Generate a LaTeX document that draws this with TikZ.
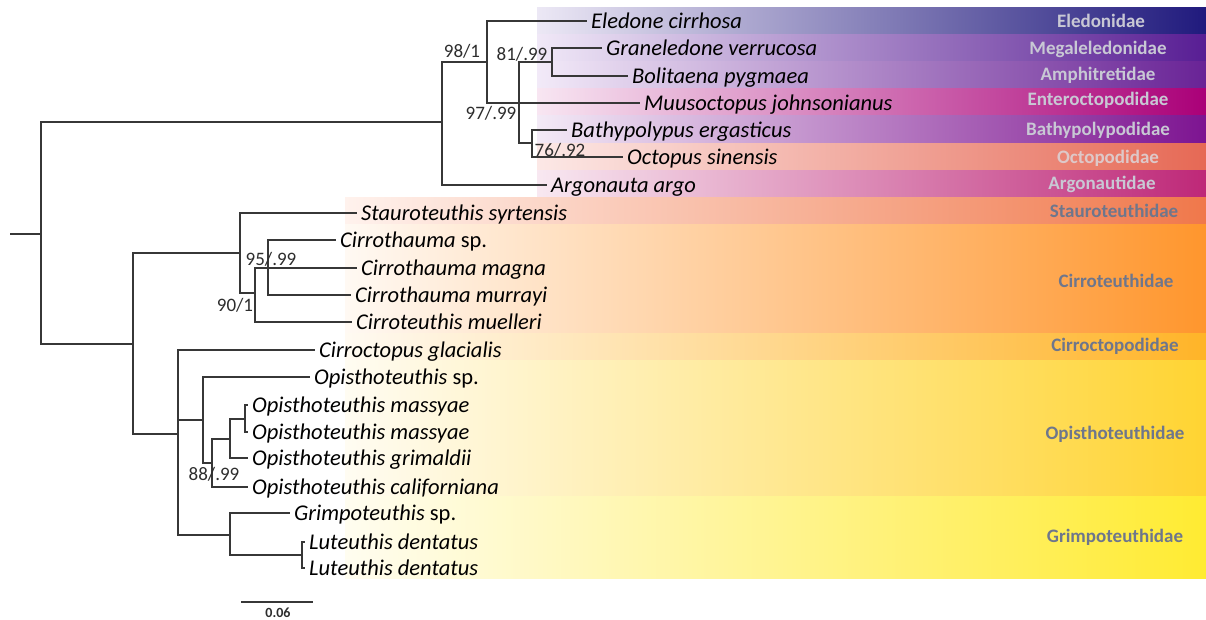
\documentclass[tikz,border=0pt]{standalone}
\usepackage{fontspec}
\setmainfont{Carlito}

\definecolor{treeline}{RGB}{55,55,55}
\definecolor{supportgray}{RGB}{45,45,45}
\definecolor{labpale}{RGB}{200,200,212}
\definecolor{labpink}{RGB}{222,200,200}
\definecolor{labslate}{RGB}{110,118,140}

\begin{document}
\begin{tikzpicture}[x=1pt,y=-1pt,
  branch/.style={draw=treeline,line width=1.3pt},
  leaf/.style={anchor=west,inner xsep=4pt,inner ysep=0pt,text height=15pt,text depth=0pt,
    font=\fontsize{22.5}{22.5}\selectfont\itshape},
  support/.style={inner sep=0pt,text=supportgray,font=\fontsize{19}{19}\selectfont},
  family/.style={inner sep=0pt,font=\fontsize{19}{19}\selectfont\bfseries}]
\useasboundingbox (0,0) rectangle (1206,619);

% family bands
\shade[left color={rgb,255:red,236;green,232;blue,245},middle color={rgb,255:red,150;green,140;blue,196},right color={rgb,255:red,32;green,26;blue,125}] (537,7) rectangle (1206,34);
\shade[left color={rgb,255:red,240;green,232;blue,247},middle color={rgb,255:red,185;green,155;blue,212},right color={rgb,255:red,88;green,30;blue,148}] (537,34) rectangle (1206,61);
\shade[left color={rgb,255:red,242;green,234;blue,248},middle color={rgb,255:red,195;green,162;blue,216},right color={rgb,255:red,105;green,35;blue,150}] (537,61) rectangle (1206,88);
\shade[left color={rgb,255:red,248;green,230;blue,242},middle color={rgb,255:red,215;green,125;blue,182},right color={rgb,255:red,170;green,0;blue,120}] (537,88) rectangle (1206,115);
\shade[left color={rgb,255:red,243;green,234;blue,246},middle color={rgb,255:red,205;green,150;blue,205},right color={rgb,255:red,125;green,20;blue,145}] (537,115) rectangle (1206,143);
\shade[left color={rgb,255:red,252;green,232;blue,230},middle color={rgb,255:red,245;green,185;blue,178},right color={rgb,255:red,230;green,105;blue,85}] (537,143) rectangle (1206,170);
\shade[left color={rgb,255:red,248;green,232;blue,241},middle color={rgb,255:red,225;green,160;blue,195},right color={rgb,255:red,190;green,40;blue,120}] (537,170) rectangle (1206,197);
\shade[left color={rgb,255:red,255;green,242;blue,237},middle color={rgb,255:red,252;green,190;blue,165},right color={rgb,255:red,240;green,120;blue,75}] (345,197) rectangle (1206,224);
\shade[left color={rgb,255:red,255;green,249;blue,243},middle color={rgb,255:red,255;green,205;blue,150},right color={rgb,255:red,255;green,150;blue,45}] (345,224) rectangle (1206,333);
\shade[left color={rgb,255:red,255;green,250;blue,242},middle color={rgb,255:red,255;green,214;blue,140},right color={rgb,255:red,255;green,180;blue,40}] (345,333) rectangle (1206,360);
\shade[left color={rgb,255:red,255;green,252;blue,242},middle color={rgb,255:red,255;green,230;blue,135},right color={rgb,255:red,255;green,212;blue,50}] (345,360) rectangle (1206,496);
\shade[left color={rgb,255:red,255;green,253;blue,240},middle color={rgb,255:red,255;green,243;blue,135},right color={rgb,255:red,255;green,235;blue,50}] (345,496) rectangle (1206,578);

% family names
\node[family,text=labpale] (eledonidae) at (1101,21) {Eledonidae};
\node[family,text=labpale] (megaleledonidae) at (1098,49) {Megaleledonidae};
\node[family,text=labpale] (amphitretidae) at (1098,75) {Amphitretidae};
\node[family,text=labpale] (enteroctopodidae) at (1098,100) {Enteroctopodidae};
\node[family,text=labpale] (bathypolypodidae) at (1098,130) {Bathypolypodidae};
\node[family,text=labpink] (octopodidae) at (1108,158) {Octopodidae};
\node[family,text=labpale] (argonautidae) at (1102,184) {Argonautidae};
\node[family,text=labslate] (stauroteuthidae) at (1114,211) {Stauroteuthidae};
\node[family,text=labslate] (cirroteuthidae) at (1116,281) {Cirroteuthidae};
\node[family,text=labslate] (cirroctopodidae) at (1115,346) {Cirroctopodidae};
\node[family,text=labslate] (opisthoteuthidae) at (1115,434) {Opisthoteuthidae};
\node[family,text=labslate] (grimpoteuthidae) at (1115,537) {Grimpoteuthidae};

% taxa
\node[leaf] (eledone) at (587,21) {Eledone cirrhosa};
\node[leaf] (graneledone) at (602,48) {Graneledone verrucosa};
\node[leaf] (bolitaena) at (628,76) {Bolitaena pygmaea};
\node[leaf] (muus) at (640,103) {Muusoctopus johnsonianus};
\node[leaf] (bathypolypus) at (567,130) {Bathypolypus ergasticus};
\node[leaf] (octopus) at (623,157) {Octopus sinensis};
\node[leaf] (argonauta) at (547,185) {Argonauta argo};
\node[leaf] (stauro) at (357,213) {Stauroteuthis syrtensis};
\node[leaf] (cthsp) at (336,240) {Cirrothauma \upshape sp.};
\node[leaf] (magna) at (357,268) {Cirrothauma magna};
\node[leaf] (murrayi) at (351,295) {Cirrothauma murrayi};
\node[leaf] (muelleri) at (352,322) {Cirroteuthis muelleri};
\node[leaf] (glacialis) at (315,350) {Cirroctopus glacialis};
\node[leaf] (opsp) at (310,377) {Opisthoteuthis \upshape sp.};
\node[leaf] (massyaeA) at (248,405) {Opisthoteuthis massyae};
\node[leaf] (massyaeB) at (248,432) {Opisthoteuthis massyae};
\node[leaf] (grimaldii) at (248,458) {Opisthoteuthis grimaldii};
\node[leaf] (californiana) at (248,487) {Opisthoteuthis californiana};
\node[leaf] (grsp) at (290,513) {Grimpoteuthis \upshape sp.};
\node[leaf] (luteuthisA) at (305,542) {Luteuthis dentatus};
\node[leaf] (luteuthisB) at (305,568) {Luteuthis dentatus};

% internal nodes
\coordinate (origin) at (10,234);
\coordinate (root) at (41,234);
\coordinate (incirrata) at (442,122);
\coordinate (nEle) at (487,62);
\coordinate (nOcto) at (519,103);
\coordinate (nMeg) at (552,62);
\coordinate (nBath) at (532,143);
\coordinate (cirrata) at (133,344);
\coordinate (nStau) at (240,253);
\coordinate (nCirro) at (255,293);
\coordinate (nCth) at (268,268);
\coordinate (nOpCi) at (178,434);
\coordinate (nOpis) at (203,420);
\coordinate (nOpisB) at (212,463);
\coordinate (nOpisC) at (230,439);
\coordinate (nMass) at (245,419);
\coordinate (nGrim) at (230,535);
\coordinate (nLut) at (302,555);

% branches
\draw[branch] (origin) -- (root);
\draw[branch] (root) |- (incirrata);
\draw[branch] (root) |- (cirrata);
\draw[branch] (incirrata) |- (nEle);
\draw[branch] (incirrata) |- (argonauta);
\draw[branch] (nEle) |- (eledone);
\draw[branch] (nEle) |- (nOcto);
\draw[branch] (nOcto) |- (nMeg);
\draw[branch] (nOcto) -- (muus);
\draw[branch] (nOcto) |- (nBath);
\draw[branch] (nMeg) |- (graneledone);
\draw[branch] (nMeg) |- (bolitaena);
\draw[branch] (nBath) |- (bathypolypus);
\draw[branch] (nBath) |- (octopus);
\draw[branch] (cirrata) |- (nStau);
\draw[branch] (cirrata) |- (nOpCi);
\draw[branch] (nStau) |- (stauro);
\draw[branch] (nStau) |- (nCirro);
\draw[branch] (nCirro) |- (nCth);
\draw[branch] (nCirro) |- (muelleri);
\draw[branch] (nCth) |- (cthsp);
\draw[branch] (nCth) -- (magna);
\draw[branch] (nCth) |- (murrayi);
\draw[branch] (nOpCi) |- (glacialis);
\draw[branch] (nOpCi) |- (nOpis);
\draw[branch] (nOpCi) |- (nGrim);
\draw[branch] (nOpis) |- (opsp);
\draw[branch] (nOpis) |- (nOpisB);
\draw[branch] (nOpisB) |- (nOpisC);
\draw[branch] (nOpisB) |- (californiana);
\draw[branch] (nOpisC) |- (nMass);
\draw[branch] (nOpisC) |- (grimaldii);
\draw[branch] (nMass) |- (massyaeA);
\draw[branch] (nMass) |- (massyaeB);
\draw[branch] (nGrim) |- (grsp);
\draw[branch] (nGrim) |- (nLut);
\draw[branch] (nLut) |- (luteuthisA);
\draw[branch] (nLut) |- (luteuthisB);

% support values
\node[support] (bsEle) at (462,51) {98/1};
\node[support] (bsMeg) at (522,54) {81/.99};
\node[support] (bsOcto) at (491,113) {97/.99};
\node[support] (bsBath) at (560,150) {76/.92};
\node[support] (bsCth) at (271,259) {95/.99};
\node[support] (bsCirro) at (235,305) {90/1};
\node[support] (bsOpis) at (214,474) {88/.99};

% scale bar
\coordinate (scaleL) at (241,602);
\coordinate (scaleR) at (313,602);
\draw[draw=treeline,line width=1.5pt] (scaleL) -- (scaleR);
\node[inner sep=0pt,text=supportgray,font=\fontsize{14}{14}\selectfont\bfseries] (scalelab) at (278,613) {0.06};
\end{tikzpicture}
\end{document}
